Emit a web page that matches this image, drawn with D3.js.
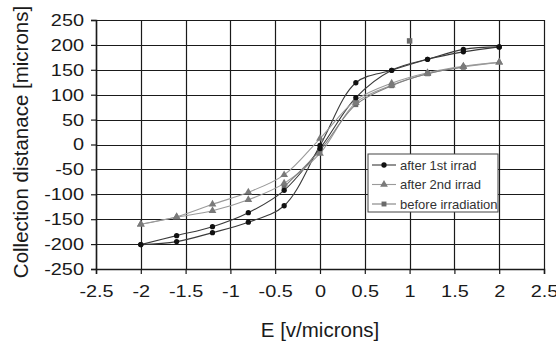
<!DOCTYPE html>
<html>
<head>
<meta charset="utf-8">
<script src="https://cdn.jsdelivr.net/npm/d3@7"></script>
<style>
  body { margin: 0; background: #fff; }
  svg text { font-family: "Liberation Sans", Arial, sans-serif; }
</style>
</head>
<body>
<div id="chart"></div>
<script>
// field sweep: up from -2 to 2, then back down
const fieldUp = [-2, -1.6, -1.2, -0.8, -0.4, 0, 0.4, 0.8, 1.2, 1.6, 2];
const fieldDown = [2, 1.6, 1.2, 0.8, 0.4, 0, -0.4, -0.8, -1.2, -1.6, -2];

const after1Up = [-201, -183, -165, -137, -92, -8, 94, 149, 171, 186, 196];
const after1Down = [196, 191, 171, 149, 124, -2, -123, -156, -177, -195, -201];

const after2Up = [-160, -145, -120, -96, -61, 12, 89, 123, 144, 157, 165];
const after2Down = [165, 156, 142, 119, 84, -18, -78, -111, -133, -146, -160];

const beforeField = [-0.4, 0, 0.4, 0.8, 1.2, 1.6];
const beforeVals = [-85, -12, 80, 118, 142, 155];
const beforeExtraField = [1];
const beforeExtraVals = [208];

const xTicks = [-2.5, -2, -1.5, -1, -0.5, 0, 0.5, 1, 1.5, 2, 2.5];
const yTicks = [-250, -200, -150, -100, -50, 0, 50, 100, 150, 200, 250];

const W = 556, H = 343;
const margin = { top: 20, right: 12, bottom: 74, left: 96 };
const width = W - margin.left - margin.right;
const height = H - margin.top - margin.bottom;

const svg = d3.select("#chart").append("svg")
  .attr("width", W)
  .attr("height", H);

const g = svg.append("g")
  .attr("transform", `translate(${margin.left},${margin.top})`);

const x = d3.scaleLinear().domain([-2.5, 2.5]).range([0, width]);
const y = d3.scaleLinear().domain([-250, 250]).range([height, 0]);

// grid
g.append("g").selectAll("line")
  .data(yTicks)
  .enter().append("line")
  .attr("x1", 0).attr("x2", width)
  .attr("y1", d => Math.round(y(d)) + 0.5).attr("y2", d => Math.round(y(d)) + 0.5)
  .attr("stroke", "#1a1a1a").attr("stroke-width", 1.2);

g.append("g").selectAll("line")
  .data(xTicks)
  .enter().append("line")
  .attr("y1", 0).attr("y2", height)
  .attr("x1", d => Math.round(x(d)) + 0.5).attr("x2", d => Math.round(x(d)) + 0.5)
  .attr("stroke", "#1a1a1a").attr("stroke-width", 1.2);

// axes
const yAxis = g.append("g")
  .call(d3.axisLeft(y).tickValues(yTicks).tickSize(5).tickPadding(7));
const xAxis = g.append("g")
  .attr("transform", `translate(0,${height})`)
  .call(d3.axisBottom(x).tickValues(xTicks).tickSize(5).tickPadding(11).tickFormat(d3.format("")));

[xAxis, yAxis].forEach(a => {
  a.select(".domain").attr("stroke", "#1a1a1a").attr("stroke-width", 1.5);
  a.selectAll(".tick line").attr("stroke", "#1a1a1a").attr("stroke-width", 1.2);
  a.selectAll("text").attr("fill", "#1a1a1a").style("font-size", "17px")
    .text(d => d < 0 ? "-" + Math.abs(d) : d);
});
// the original labels are a bit wider than Arial
svg.selectAll(".tick text").each(function () {
  const w = this.getComputedTextLength();
  d3.select(this).attr("textLength", w * 1.17).attr("lengthAdjust", "spacingAndGlyphs");
});

// series
const line = d3.line()
  .x(d => x(d[0]))
  .y(d => y(d[1]))
  .curve(d3.curveCatmullRom.alpha(0.5));

const zip = (xs, ys) => xs.map((v, i) => [v, ys[i]]);

const series = [
  { name: "after 1st irrad", pts: [zip(fieldUp, after1Up), zip(fieldDown, after1Down)], line: "#3a3a3a", mark: "#111", shape: d3.symbolCircle, size: 22 },
  { name: "after 2nd irrad", pts: [zip(fieldUp, after2Up), zip(fieldDown, after2Down)], line: "#9a9a9a", mark: "#7a7a7a", shape: d3.symbolTriangle, size: 26 },
  { name: "before irradiation", pts: [zip(beforeField, beforeVals)], line: "#808080", mark: "#6a6a6a", shape: d3.symbolSquare, size: 24 }
];

series.forEach(s => {
  s.pts.forEach(p => {
    g.append("path")
      .datum(p)
      .attr("fill", "none")
      .attr("stroke", s.line)
      .attr("stroke-width", 1.1)
      .attr("d", line);
  });
});

series.slice().reverse().forEach(s => {
  s.pts.forEach(p => {
    g.selectAll(null)
      .data(p)
      .enter().append("path")
      .attr("transform", d => `translate(${x(d[0])},${y(d[1])})`)
      .attr("d", d3.symbol().type(s.shape).size(s.size))
      .attr("fill", s.mark);
  });
});

g.selectAll(null)
  .data(zip(beforeExtraField, beforeExtraVals))
  .enter().append("path")
  .attr("transform", d => `translate(${x(d[0])},${y(d[1])})`)
  .attr("d", d3.symbol().type(d3.symbolSquare).size(30))
  .attr("fill", "#6a6a6a");

// legend
const lg = svg.append("g").attr("transform", "translate(368,154)");
lg.append("rect")
  .attr("width", 130).attr("height", 58)
  .attr("fill", "#fff").attr("stroke", "#444").attr("stroke-width", 1);

series.forEach((s, i) => {
  const row = lg.append("g").attr("transform", `translate(0,${11 + i * 19.5})`);
  row.append("line")
    .attr("x1", 4).attr("x2", 28)
    .attr("stroke", s.line).attr("stroke-width", 1.1);
  row.append("path")
    .attr("transform", "translate(16,0)")
    .attr("d", d3.symbol().type(s.shape).size(s.size))
    .attr("fill", s.mark);
  row.append("text")
    .attr("x", 32).attr("y", 4.5)
    .attr("fill", "#333")
    .style("font-size", "13px")
    .text(s.name);
});

// axis titles
svg.append("text")
  .attr("x", margin.left + x(0))
  .attr("y", 337)
  .attr("text-anchor", "middle")
  .attr("fill", "#1a1a1a")
  .style("font-size", "20.5px")
  .text("E [v/microns]");

svg.append("text")
  .attr("transform", "translate(28,142) rotate(-90)")
  .attr("text-anchor", "middle")
  .attr("fill", "#1a1a1a")
  .style("font-size", "20.5px")
  .text("Collection distanace [microns]");
</script>
</body>
</html>
